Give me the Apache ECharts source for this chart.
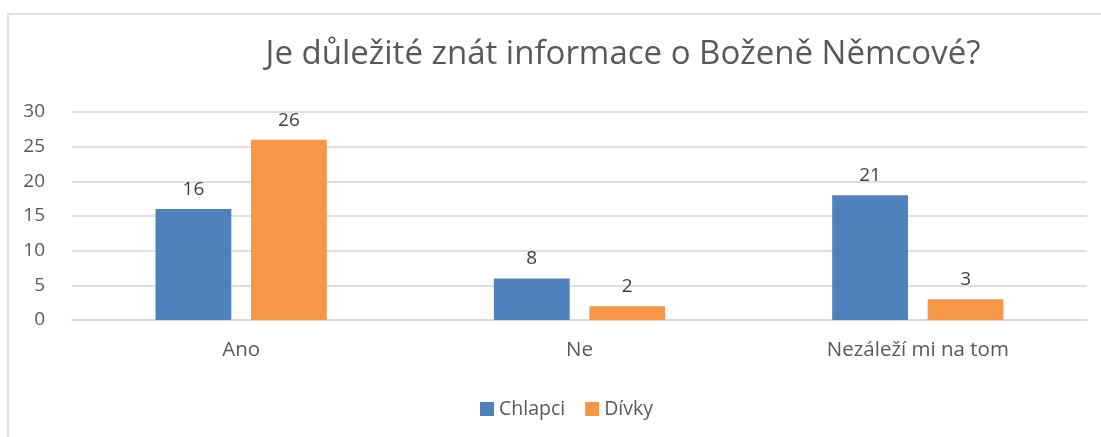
<!DOCTYPE html>
<html>
<head>
<meta charset="utf-8">
<script src="https://cdn.jsdelivr.net/npm/echarts@6/dist/echarts.min.js"></script>
<style>
  html, body { margin: 0; padding: 0; background: #fff; }
  #frame { position: absolute; left: 7px; top: 13px; width: 1094px; height: 424px;
           border-left: 2px solid #dedede; border-top: 2px solid #e3e3e3; box-sizing: border-box; }
  #chart { position: absolute; left: 0; top: 0; width: 1101px; height: 437px; }
</style>
</head>
<body>
<div id="frame"></div>
<div id="chart"></div>
<script>
// data
const categories = ['Ano', 'Ne', 'Nezáleží mi na tom'];
const seriesNames = ['Chlapci', 'Dívky'];
// bar heights as drawn
const chlapciBars = [16, 6, 18];
const divkyBars = [26, 2, 3];
// numbers printed above the bars
const chlapciLabels = [16, 8, 21];
const divkyLabels = [26, 2, 3];
const yTicks = { min: 0, max: 30, interval: 5 };

const font = 'Open Sans';
const textColor = '#595959';

let myChart = echarts.init(document.getElementById('chart'));

function barSeries(name, values, labels, color) {
  return {
    name: name,
    type: 'bar',
    data: values,
    barWidth: '22.4%',
    barGap: '26%',
    itemStyle: { color: color },
    label: {
      show: true,
      position: 'top',
      distance: 10,
      color: '#404040',
      fontFamily: font,
      fontSize: 19,
      formatter: p => labels[p.dataIndex]
    }
  };
}

myChart.setOption({
  animation: false,
  title: {
    text: 'Je důležité znát informace o Boženě Němcové?',
    left: 618,
    textAlign: 'center',
    top: 33,
    textStyle: { color: textColor, fontFamily: font, fontSize: 33, fontWeight: 'normal' }
  },
  legend: {
    data: seriesNames,
    left: 475,
    top: 394,
    itemWidth: 14,
    itemHeight: 14,
    itemGap: 20,
    icon: 'rect',
    textStyle: { color: textColor, fontFamily: font, fontSize: 19.5 }
  },
  grid: { left: 72, right: 14, top: 112, bottom: 117 },
  xAxis: {
    type: 'category',
    data: categories,
    axisLine: { lineStyle: { color: '#d9d9d9', width: 2 } },
    axisTick: { show: false },
    axisLabel: { color: textColor, fontFamily: font, fontSize: 20.5, margin: 20 }
  },
  yAxis: {
    type: 'value',
    min: yTicks.min,
    max: yTicks.max,
    interval: yTicks.interval,
    axisLine: { show: false },
    axisTick: { show: false },
    splitLine: { lineStyle: { color: '#e0e0e0', width: 2 } },
    axisLabel: { color: textColor, fontFamily: font, fontSize: 19, margin: 27 }
  },
  series: [
    barSeries(seriesNames[0], chlapciBars, chlapciLabels, '#4f81bd'),
    barSeries(seriesNames[1], divkyBars, divkyLabels, '#f79646')
  ]
});
</script>
</body>
</html>
